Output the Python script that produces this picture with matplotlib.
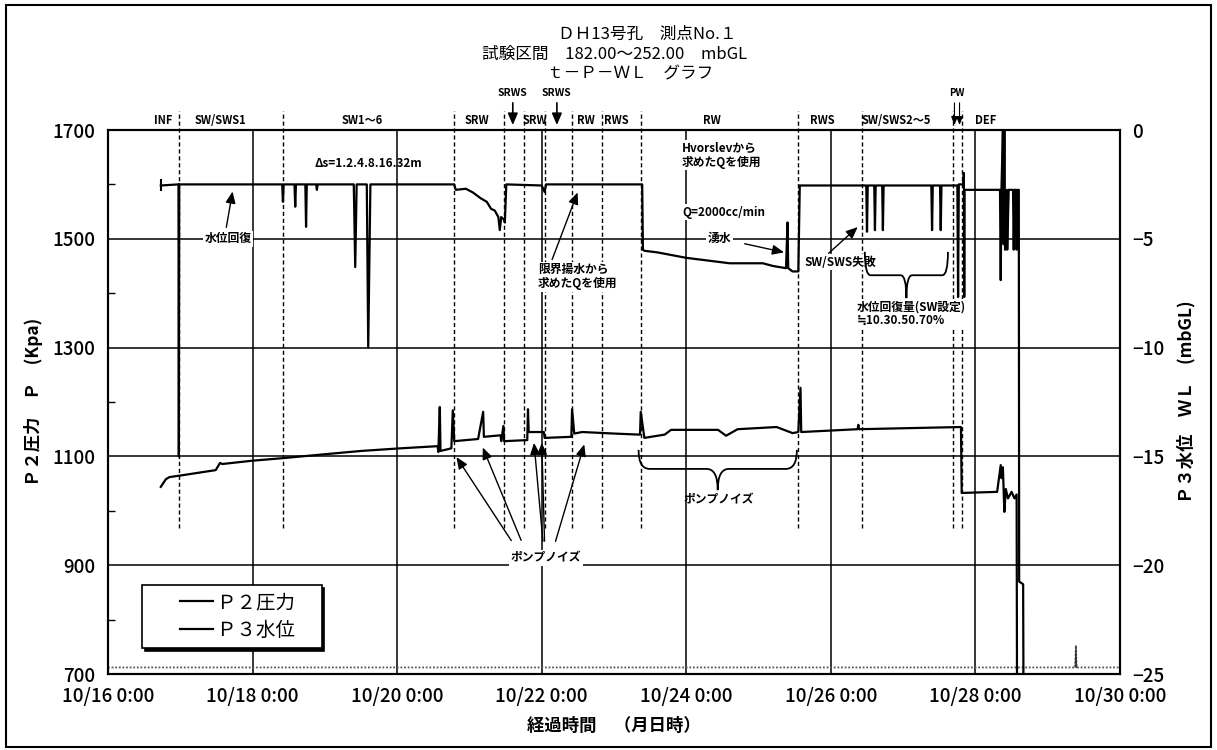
import matplotlib
matplotlib.use("Agg")
import matplotlib.pyplot as plt
from matplotlib.patches import Rectangle, PathPatch
from matplotlib.path import Path
from matplotlib.lines import Line2D
from matplotlib.legend_handler import HandlerLine2D

plt.rcParams['font.family'] = ['Noto Sans CJK JP', 'DejaVu Sans']

# x axis is elapsed days from 10/16 0:00
day_ticks = [0, 2, 4, 6, 8, 10, 12, 14]
day_labels = ['10/16 0:00', '10/18 0:00', '10/20 0:00', '10/22 0:00',
              '10/24 0:00', '10/26 0:00', '10/28 0:00', '10/30 0:00']

# P2 pressure (kPa, left axis)
p2_days = [0.73, 0.975, 0.98, 0.985, 2.41, 2.42, 2.43, 2.58, 2.59, 2.60,
           2.73, 2.74, 2.75, 2.88, 2.89, 2.90, 3.40, 3.42, 3.44, 3.58,
           3.60, 3.63, 4.79, 4.81, 4.95, 5.05, 5.15, 5.24, 5.30, 5.35,
           5.40, 5.42, 5.44, 5.48, 5.49, 5.51, 6.00, 6.04, 6.06, 7.39,
           7.40, 7.42, 7.60, 7.80, 8.00, 8.30, 8.60, 9.06, 9.20, 9.38,
           9.40, 9.41, 9.47, 9.55, 9.57, 10.49, 10.50, 10.51, 10.60, 10.61,
           10.62, 10.71, 10.72, 10.73, 11.39, 11.40, 11.41, 11.51, 11.52, 11.53,
           11.75, 11.76, 11.77, 11.83, 11.84, 11.845, 11.85, 12.34, 12.35, 12.36,
           12.38, 12.39, 12.40, 12.41, 12.43, 12.44, 12.46, 12.52, 12.53, 12.54,
           12.56, 12.57, 12.58, 12.60, 12.605, 12.66, 12.665]
p2_kpa = [1598, 1600, 1100, 1600, 1600, 1568, 1600, 1600, 1559, 1600,
          1600, 1522, 1600, 1600, 1590, 1600, 1600, 1448, 1600, 1600,
          1300, 1600, 1600, 1590, 1592, 1585, 1575, 1568, 1555, 1552,
          1540, 1516, 1540, 1535, 1530, 1600, 1598, 1586, 1600, 1600,
          1480, 1478, 1475, 1470, 1465, 1460, 1455, 1455, 1450, 1446,
          1530, 1446, 1440, 1440, 1598, 1598, 1513, 1598, 1598, 1516,
          1598, 1598, 1516, 1598, 1598, 1516, 1598, 1598, 1516, 1598,
          1598, 1393, 1600, 1600, 1621, 1393, 1590, 1590, 1424, 1590,
          1700, 1490, 1700, 1480, 1590, 1480, 1590, 1590, 1480, 1590,
          1590, 1480, 1590, 1590, 870, 865, 650]

# P3 water level (mbGL, right axis)
p3_days = [0.73, 0.80, 0.85, 1.00, 1.49, 1.55, 1.58, 1.99, 2.42, 3.00,
           3.50, 4.04, 4.56, 4.57, 4.59, 4.60, 4.75, 4.77, 4.79, 5.12,
           5.19, 5.20, 5.43, 5.44, 5.47, 5.48, 5.80, 5.81, 5.82, 6.03,
           6.04, 6.41, 6.42, 6.45, 6.56, 7.00, 7.36, 7.37, 7.42, 7.51,
           7.70, 7.79, 8.44, 8.55, 8.71, 9.25, 9.47, 9.55, 9.58, 9.59,
           10.37, 10.38, 10.39, 11.80, 11.81, 12.30, 12.35, 12.36, 12.38, 12.40,
           12.42, 12.45, 12.50, 12.54, 12.57, 12.575]
p3_wl = [-16.40, -16.05, -15.95, -15.88, -15.63, -15.30, -15.35, -15.20, -15.08, -14.90,
         -14.75, -14.63, -14.53, -14.80, -12.73, -14.75, -14.63, -12.88, -14.30, -14.20,
         -12.95, -14.10, -14.03, -14.30, -13.60, -14.30, -14.25, -12.83, -13.88, -13.88,
         -14.15, -14.10, -12.83, -13.95, -13.88, -13.95, -14.00, -12.95, -14.15, -14.10,
         -14.00, -13.78, -13.78, -14.05, -13.75, -13.65, -13.93, -13.88, -11.85, -13.88,
         -13.75, -13.55, -13.75, -13.65, -16.68, -16.63, -15.40, -16.00, -15.50, -17.55,
         -16.50, -16.93, -16.63, -16.93, -16.75, -25.25]

# noisy base trace near the bottom (kPa)
base_days = [0.0, 13.38, 13.39, 13.40, 14.0]
base_kpa = [712, 712, 752, 712, 712]

# test stage boundaries (days) and stage names
stage_bounds = [0.98, 2.42, 4.79, 5.48, 5.75, 6.04, 6.42, 6.84, 7.38,
                9.55, 10.43, 11.69, 11.81]
stage_names = ['INF', 'SW/SWS1', 'SW1～6', 'SRW', 'SRW', 'RW', 'RWS', 'RW',
               'RWS', 'SW/SWS2～5', 'DEF']
stage_x = [0.76, 1.55, 3.51, 5.10, 5.91, 6.61, 7.03, 8.35, 9.88, 10.91, 12.14]

W, H = 1217, 750
fig = plt.figure(figsize=(W / 100, H / 100), dpi=100)
ax = fig.add_axes([108 / W, 76 / H, 1012 / W, 544 / H])
ax2 = ax.twinx()

ax.set_xlim(0, 14)
ax.set_ylim(700, 1700)
ax2.set_ylim(-25, 0)
ax.set_xticks(day_ticks)
ax.set_xticklabels(day_labels)
ax.set_yticks(range(700, 1701, 200))
ax.set_yticks(range(800, 1700, 200), minor=True)
ax.tick_params(axis='both', which='major', length=0, pad=9, labelsize=13.5)
ax.tick_params(axis='y', which='minor', direction='in', length=5, width=1)
ax2.set_yticks(range(-25, 1, 5))
ax2.tick_params(axis='y', length=0, pad=9, labelsize=13.5)
for lbl in ax.get_xticklabels() + ax.get_yticklabels() + ax2.get_yticklabels():
    lbl.set_fontweight('medium')
ax.grid(True, which='major', color='black', lw=1.1)
for a in (ax, ax2):
    for s in a.spines.values():
        s.set_linewidth(1.5)

# stage boundaries
for d in stage_bounds:
    ax.axvline(d, ymin=0.268, ymax=1.035, color='black', lw=1,
               ls=(0, (3, 2)), clip_on=False, zorder=1)
for name, d in zip(stage_names, stage_x):
    ax.text(d, 1.006, name, transform=ax.get_xaxis_transform(), ha='center',
            va='bottom', fontsize=8, fontweight='bold')
for d in [5.60, 6.21]:
    ax.text(d, 1.068, 'SRWS', transform=ax.get_xaxis_transform(), ha='center',
            va='center', fontsize=7.5, fontweight='bold')
    ax.annotate('', xy=(d, 1.004), xytext=(d, 1.055),
                xycoords=ax.get_xaxis_transform(),
                arrowprops=dict(arrowstyle='-|>,head_length=0.7,head_width=0.3',
                                color='black', lw=1.2))
ax.text(11.745, 1.068, 'PW', transform=ax.get_xaxis_transform(), ha='center',
        va='center', fontsize=7, fontweight='bold')
for d in [11.71, 11.78]:
    ax.annotate('', xy=(d, 1.004), xytext=(d, 1.055),
                xycoords=ax.get_xaxis_transform(),
                arrowprops=dict(arrowstyle='-|>,head_length=0.5,head_width=0.2',
                                color='black', lw=0.8))

# data
ax.plot(p2_days, p2_kpa, color='black', lw=1.6, label='Ｐ２圧力', zorder=4)
ax.plot(p2_days[:1], p2_kpa[:1], color='black', marker='|', ms=8, mew=1.5, zorder=4)
ax2.plot(p3_days, p3_wl, color='black', lw=1.6, label='Ｐ３水位', zorder=4)
ax.plot(base_days, base_kpa, color='#555555', lw=1.3, ls=(0, (1, 1)), zorder=2)
ax.plot(base_days[1:4], base_kpa[1:4], color='#333333', lw=0.8, zorder=2)

# annotations
box = dict(facecolor='white', edgecolor='none', pad=1)
afont = dict(fontsize=8.5, fontweight='bold')
arrow = dict(arrowstyle='-|>,head_length=0.7,head_width=0.3', color='black', lw=1)

ax.text(3.60, 1639, 'Δs=1.2.4.8.16.32m', ha='center', va='center', **afont)
ax.text(1.66, 1500, '水位回復', ha='center', va='center', bbox=box, zorder=5, **afont)
ax.annotate('', xy=(1.73, 1592), xytext=(1.63, 1516), arrowprops=arrow)
ax.text(5.95, 1430, '限界揚水から\n求めたQを使用', ha='left', va='center',
        linespacing=1.1, bbox=box, zorder=5, **afont)
ax.annotate('', xy=(6.51, 1590), xytext=(6.13, 1457), arrowprops=arrow)
ax.text(7.94, 1654, 'Hvorslevから\n求めたQを使用', ha='left', va='center',
        linespacing=1.1, bbox=box, zorder=5, **afont)
ax.text(7.94, 1549, 'Q=2000cc/min', ha='left', va='center', bbox=box, zorder=5, **afont)
ax.text(8.46, 1500, '湧水', ha='center', va='center', bbox=box, zorder=5, **afont)
ax.annotate('', xy=(9.39, 1474), xytext=(8.77, 1492), arrowprops=arrow)
ax.text(9.64, 1457, 'SW/SWS失敗', ha='left', va='center', bbox=box, zorder=5, **afont)
ax.annotate('', xy=(10.40, 1525), xytext=(9.94, 1470), arrowprops=arrow)
ax.text(10.36, 1362, '水位回復量(SW設定)\n≒10.30.50.70%', ha='left', va='center',
        linespacing=1.1, bbox=box, zorder=5, **afont)
ax.text(6.06, 913, 'ポンプノイズ', ha='center', va='center', bbox=box, zorder=5, **afont)
for (x0, y0), (x1, y1) in [((5.60, 941), (4.80, 1103)), ((5.73, 941), (5.17, 1121)),
                           ((6.02, 939), (5.89, 1130)), ((6.04, 939), (6.00, 1130)),
                           ((6.18, 939), (6.60, 1127))]:
    ax.annotate('', xy=(x1, y1), xytext=(x0, y0), arrowprops=arrow)
ax.text(8.45, 1020, 'ポンプノイズ', ha='center', va='center', **afont)


def brace(x0, x1, y_end, y_bar, y_tip):
    xm = (x0 + x1) / 2
    r = (x1 - x0) * 0.07
    verts = [(x0, y_end), (x0, y_bar), (x0 + r, y_bar), (xm - r, y_bar),
             (xm, y_bar), (xm, y_tip), (xm, y_bar), (xm + r, y_bar),
             (x1 - r, y_bar), (x1, y_bar), (x1, y_end)]
    codes = [Path.MOVETO, Path.CURVE3, Path.CURVE3, Path.LINETO,
             Path.CURVE3, Path.CURVE3, Path.CURVE3, Path.CURVE3,
             Path.LINETO, Path.CURVE3, Path.CURVE3]
    ax.add_patch(PathPatch(Path(verts, codes), fill=False, lw=1.3,
                           color='black', zorder=5))


brace(10.47, 11.62, 1476, 1433, 1391)
brace(7.34, 9.53, 1112, 1077, 1038)

# labels
ax.set_ylabel('Ｐ２圧力　Ｐ　(Kpa)', fontsize=12.5, fontweight='bold')
ax.yaxis.set_label_coords(-0.064, 0.5)
ax2.set_ylabel('Ｐ３水位　ＷＬ　(mbGL)', fontsize=12.5, fontweight='bold')
ax2.yaxis.set_label_coords(1.056, 0.5)
ax.set_xlabel('経過時間　（月日時）', fontsize=12.5, fontweight='bold', labelpad=8)

fig.text(0.532, 0.954, 'ＤＨ13号孔　測点No.１', ha='center', va='center', fontsize=12)
fig.text(0.505, 0.928, '試験区間　182.00～252.00　mbGL', ha='center', va='center', fontsize=12)
fig.text(0.518, 0.901, 'ｔ－Ｐ－ＷＬ　グラフ', ha='center', va='center', fontsize=12)

h1, l1 = ax.get_legend_handles_labels()
h2, l2 = ax2.get_legend_handles_labels()
leg = ax.legend(h1 + h2, [l + '　' for l in l1 + l2], loc='lower left',
                bbox_to_anchor=(0.034, 0.048), borderaxespad=0,
                fontsize=14, frameon=True, fancybox=False, edgecolor='black',
                shadow={'color': 'black', 'alpha': 1.0}, handlelength=3.3,
                handletextpad=0.2, borderpad=0.35, labelspacing=0.35,
                handler_map={Line2D: HandlerLine2D(xpad=1.6)})
leg.get_frame().set_linewidth(1.2)
leg.set_zorder(6)

fig.add_artist(Rectangle((0.005, 0.004), 0.99, 0.99, transform=fig.transFigure,
                         fill=False, lw=1.5, color='black'))

fig.savefig('out.png', dpi=100)
